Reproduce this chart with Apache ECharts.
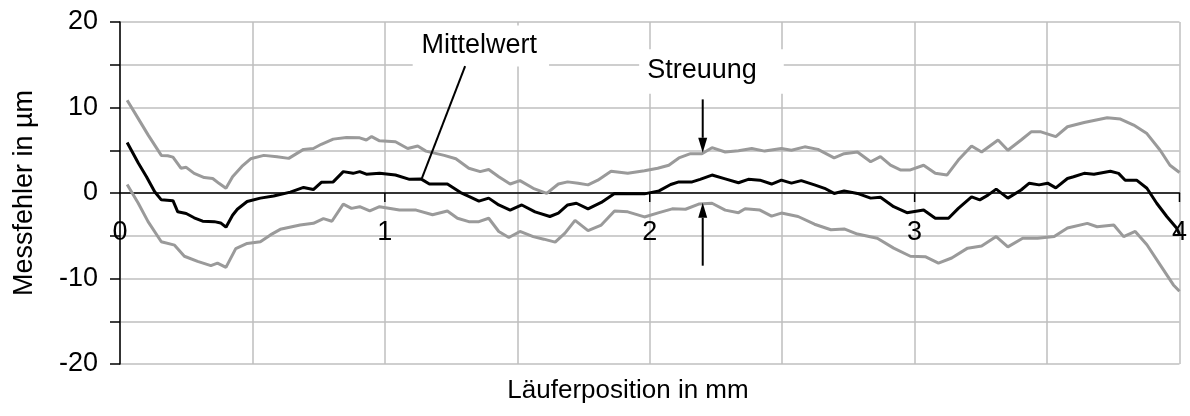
<!DOCTYPE html>
<html>
<head>
<meta charset="utf-8">
<script src="https://cdn.jsdelivr.net/npm/echarts@6/dist/echarts.min.js"></script>
<style>
html,body{margin:0;padding:0;background:#fff;}
#c{width:1190px;height:416px;}
</style>
</head>
<body>
<div id="c"></div>
<script>
// ---- data (x in mm, y in µm) ----
const meanPoints = [[0.027,5.9],[0.069,3.5],[0.1,1.9],[0.131,0.15],[0.156,-0.8],[0.2,-0.9],[0.218,-2.2],[0.25,-2.4],[0.28,-2.9],[0.312,-3.3],[0.356,-3.35],[0.38,-3.5],[0.4,-4.0],[0.425,-2.6],[0.443,-1.9],[0.48,-1.0],[0.53,-0.6],[0.58,-0.35],[0.643,0.1],[0.693,0.65],[0.73,0.4],[0.76,1.25],[0.805,1.3],[0.843,2.5],[0.88,2.3],[0.905,2.5],[0.93,2.2],[0.98,2.3],[1.04,2.1],[1.093,1.6],[1.136,1.65],[1.168,1.05],[1.236,1.05],[1.286,0.05],[1.317,-0.4],[1.355,-0.95],[1.392,-0.6],[1.43,-1.4],[1.473,-2.0],[1.517,-1.4],[1.567,-2.2],[1.623,-2.75],[1.655,-2.35],[1.69,-1.4],[1.723,-1.2],[1.767,-1.85],[1.817,-1.1],[1.867,-0.05],[1.917,-0.1],[1.98,-0.1],[2.035,0.25],[2.079,1.0],[2.11,1.3],[2.16,1.3],[2.19,1.6],[2.235,2.1],[2.285,1.65],[2.335,1.2],[2.372,1.6],[2.416,1.5],[2.46,1.05],[2.497,1.5],[2.535,1.15],[2.572,1.45],[2.622,0.95],[2.66,0.55],[2.696,-0.05],[2.734,0.25],[2.784,-0.05],[2.834,-0.6],[2.871,-0.5],[2.921,-1.6],[2.971,-2.3],[3.034,-2.0],[3.078,-2.95],[3.128,-2.95],[3.165,-1.8],[3.215,-0.45],[3.246,-0.8],[3.277,-0.25],[3.308,0.45],[3.352,-0.6],[3.402,0.35],[3.433,1.15],[3.47,0.95],[3.502,1.15],[3.533,0.6],[3.577,1.7],[3.6,1.9],[3.64,2.3],[3.677,2.2],[3.739,2.55],[3.77,2.3],[3.795,1.5],[3.838,1.5],[3.877,0.55],[3.914,-1.2],[3.952,-2.75],[3.989,-4.1],[4.0,-4.8]];

const upperPoints = [[0.027,10.85],[0.069,8.7],[0.106,6.8],[0.156,4.4],[0.18,4.35],[0.2,4.2],[0.23,2.9],[0.25,3.0],[0.28,2.3],[0.318,1.8],[0.35,1.7],[0.375,1.1],[0.4,0.55],[0.425,1.9],[0.46,3.1],[0.493,4.0],[0.543,4.4],[0.593,4.25],[0.637,4.05],[0.693,5.1],[0.73,5.2],[0.76,5.7],[0.805,6.3],[0.855,6.5],[0.905,6.45],[0.93,6.2],[0.95,6.6],[0.98,6.1],[1.04,6.0],[1.086,5.2],[1.124,5.5],[1.155,4.9],[1.224,4.4],[1.268,4.0],[1.317,2.9],[1.36,2.5],[1.392,2.75],[1.43,1.9],[1.473,1.05],[1.51,1.45],[1.56,0.55],[1.611,-0.05],[1.655,1.05],[1.69,1.3],[1.73,1.15],[1.767,0.95],[1.804,1.5],[1.854,2.55],[1.917,2.3],[1.98,2.6],[2.03,2.9],[2.072,3.25],[2.11,4.1],[2.154,4.6],[2.197,4.6],[2.235,5.3],[2.285,4.8],[2.335,4.95],[2.385,5.2],[2.434,4.9],[2.497,5.2],[2.535,5.0],[2.585,5.4],[2.635,5.1],[2.696,4.1],[2.734,4.6],[2.784,4.8],[2.834,3.65],[2.871,4.25],[2.909,3.25],[2.946,2.7],[2.984,2.7],[3.034,3.25],[3.078,2.3],[3.122,2.1],[3.165,3.85],[3.215,5.5],[3.253,4.8],[3.315,6.2],[3.352,5.0],[3.402,6.2],[3.44,7.15],[3.477,7.15],[3.533,6.6],[3.577,7.75],[3.64,8.25],[3.727,8.8],[3.777,8.65],[3.827,7.95],[3.877,6.95],[3.927,5.0],[3.964,3.25],[4.0,2.4]];

const lowerPoints = [[0.027,1.0],[0.069,-1.2],[0.106,-3.35],[0.156,-5.7],[0.206,-6.1],[0.243,-7.4],[0.293,-8.0],[0.343,-8.5],[0.368,-8.2],[0.4,-8.7],[0.437,-6.5],[0.48,-5.9],[0.53,-5.7],[0.568,-4.9],[0.605,-4.25],[0.68,-3.75],[0.73,-3.55],[0.768,-3.0],[0.8,-3.3],[0.843,-1.3],[0.874,-1.8],[0.905,-1.6],[0.943,-2.1],[0.98,-1.6],[1.055,-2.0],[1.118,-2.0],[1.18,-2.55],[1.236,-2.1],[1.274,-2.95],[1.317,-3.35],[1.355,-3.35],[1.392,-2.95],[1.43,-4.5],[1.468,-5.2],[1.51,-4.5],[1.56,-5.1],[1.6,-5.4],[1.643,-5.75],[1.68,-4.7],[1.718,-3.2],[1.767,-4.4],[1.817,-3.75],[1.867,-2.1],[1.917,-2.2],[1.98,-2.8],[2.035,-2.3],[2.085,-1.85],[2.135,-1.9],[2.185,-1.3],[2.235,-1.2],[2.285,-2.0],[2.335,-2.3],[2.36,-1.85],[2.416,-2.0],[2.46,-2.7],[2.497,-2.35],[2.56,-2.75],[2.622,-3.65],[2.684,-4.3],[2.734,-4.2],[2.784,-4.8],[2.859,-5.3],[2.921,-6.45],[2.984,-7.4],[3.04,-7.45],[3.09,-8.2],[3.14,-7.6],[3.2,-6.45],[3.253,-6.2],[3.308,-5.1],[3.352,-6.3],[3.408,-5.3],[3.464,-5.3],[3.527,-5.1],[3.577,-4.1],[3.652,-3.55],[3.689,-3.95],[3.752,-3.75],[3.789,-5.1],[3.833,-4.5],[3.877,-6.05],[3.927,-8.4],[3.977,-10.75],[4.0,-11.5]];

const xTickLabels = ['0','1','2','3','4'];
const xTickValues = [1, 2, 3, 4];
const yTickLabels = ['-20','-10','0','10','20'];

const xTitle = 'Läuferposition in mm';
const yTitle = 'Messfehler in µm';
const meanLabel = 'Mittelwert';
const spreadLabel = 'Streuung';

// annotation anchors in data coordinates
const meanLabelAt = [1.356, 17.3];
const meanLabelBox = [[1.105, 19.6], [1.62, 14.8]];
const meanLeader = [[1.303, 14.84], [1.14, 1.75]];
const spreadLabelAt = [2.197, 14.3];
const spreadLabelBox = [[1.96, 16.8], [2.506, 11.6]];
const arrowDown = [[2.2, 10.95], [2.2, 4.7]];
const arrowUp = [[2.2, -8.5], [2.2, -1.15]];

const FONT = 'Liberation Sans, Arial, sans-serif';
const GRID = '#bfbfbf';

const chart = echarts.init(document.getElementById('c'), null, {renderer: 'canvas'});

const option = {
  animation: false,
  backgroundColor: '#fff',
  textStyle: {fontFamily: FONT},
  grid: {left: 120, right: 1, top: 22, bottom: 52, containLabel: false},
  xAxis: {
    type: 'value', min: 0, max: 4, interval: 1,
    axisLine: {show: true, onZero: true, lineStyle: {color: '#000', width: 1.5}},
    axisTick: {show: false},
    minorTick: {show: false, splitNumber: 2},
    axisLabel: {fontSize: 27, color: '#000', margin: 24, fontFamily: FONT,
      formatter: v => xTickLabels[Math.round(v)] ?? ''},
    splitLine: {show: true, lineStyle: {color: GRID, width: 1.5}},
    minorSplitLine: {show: true, lineStyle: {color: GRID, width: 1.5}}
  },
  yAxis: {
    type: 'value', min: -20, max: 20, interval: 10,
    name: yTitle, nameLocation: 'middle', nameGap: 82,
    nameTextStyle: {fontSize: 27, color: '#000', fontFamily: FONT},
    axisLine: {show: true, onZero: false, lineStyle: {color: '#000', width: 1.5}},
    axisTick: {show: true, inside: false, length: 10, lineStyle: {color: '#000', width: 1.5}},
    minorTick: {show: true, splitNumber: 2, length: 10, lineStyle: {color: '#000', width: 1.5}},
    axisLabel: {fontSize: 27, color: '#000', margin: 22, fontFamily: FONT,
      formatter: v => yTickLabels[Math.round((v + 20) / 10)] ?? ''},
    splitLine: {show: true, lineStyle: {color: GRID, width: 1.5}},
    minorSplitLine: {show: true, lineStyle: {color: GRID, width: 1.5}}
  },
  series: [
    {type: 'line', name: 'oben', data: upperPoints, showSymbol: false, z: 3,
     lineStyle: {color: '#9a9a9a', width: 3}},
    {type: 'line', name: 'unten', data: lowerPoints, showSymbol: false, z: 3,
     lineStyle: {color: '#9a9a9a', width: 3}},
    {type: 'line', name: 'Mittelwert', data: meanPoints, showSymbol: false, z: 4,
     lineStyle: {color: '#000000', width: 3}}
  ]
};
chart.setOption(option);

const px = p => chart.convertToPixel({gridIndex: 0}, p);

// place x tick labels just below the zero line (as in the reference)
const zeroY = px([0, 0])[1];
const bottomY = px([0, -20])[1];
chart.setOption({xAxis: {axisLabel: {margin: 24 - (bottomY - zeroY) + 2}}});

function boxRect(b) {
  const a = px(b[0]), c = px(b[1]);
  return {type: 'rect', z: 10, silent: true,
    shape: {x: Math.min(a[0], c[0]), y: Math.min(a[1], c[1]), width: Math.abs(c[0] - a[0]), height: Math.abs(c[1] - a[1])},
    style: {fill: '#fff'}};
}
function label(text, at) {
  const p = px(at);
  return {type: 'text', z: 11, silent: true, x: p[0], y: p[1],
    style: {text: text, fontSize: 27, fontFamily: FONT, fill: '#000', align: 'center', verticalAlign: 'middle'}};
}
function seg(pts, w) {
  const a = px(pts[0]), b = px(pts[1]);
  return {type: 'line', z: 11, silent: true, shape: {x1: a[0], y1: a[1], x2: b[0], y2: b[1]},
    style: {stroke: '#000', lineWidth: w}};
}
function arrow(pts) {
  const a = px(pts[0]), b = px(pts[1]);
  const dir = Math.sign(b[1] - a[1]);
  const headLen = 15, headHalf = 4.5;
  return [
    {type: 'line', z: 11, silent: true, shape: {x1: a[0], y1: a[1], x2: b[0], y2: b[1] - dir * headLen},
     style: {stroke: '#000', lineWidth: 2}},
    {type: 'polygon', z: 11, silent: true,
     shape: {points: [[b[0], b[1]], [b[0] - headHalf, b[1] - dir * headLen], [b[0] + headHalf, b[1] - dir * headLen]]},
     style: {fill: '#000'}}
  ];
}
// tick marks hanging below the zero axis line at the integer positions
function zeroTicks() {
  return xTickValues.map(v => {
    const p = px([v, 0]);
    return {type: 'line', z: 9, silent: true, shape: {x1: p[0], y1: p[1], x2: p[0], y2: p[1] + 9},
      style: {stroke: '#000', lineWidth: 1.5}};
  });
}

const graphics = [
  boxRect(meanLabelBox),
  boxRect(spreadLabelBox),
  label(meanLabel, meanLabelAt),
  label(spreadLabel, spreadLabelAt),
  seg(meanLeader, 2),
  ...arrow(arrowDown),
  ...arrow(arrowUp),
  ...zeroTicks(),
  {type: 'text', z: 11, silent: true, x: 628, y: 391,
   style: {text: xTitle, fontSize: 26, fontFamily: FONT, fill: '#000', align: 'center', verticalAlign: 'middle'}}
];
chart.setOption({graphic: graphics});
</script>
</body>
</html>
